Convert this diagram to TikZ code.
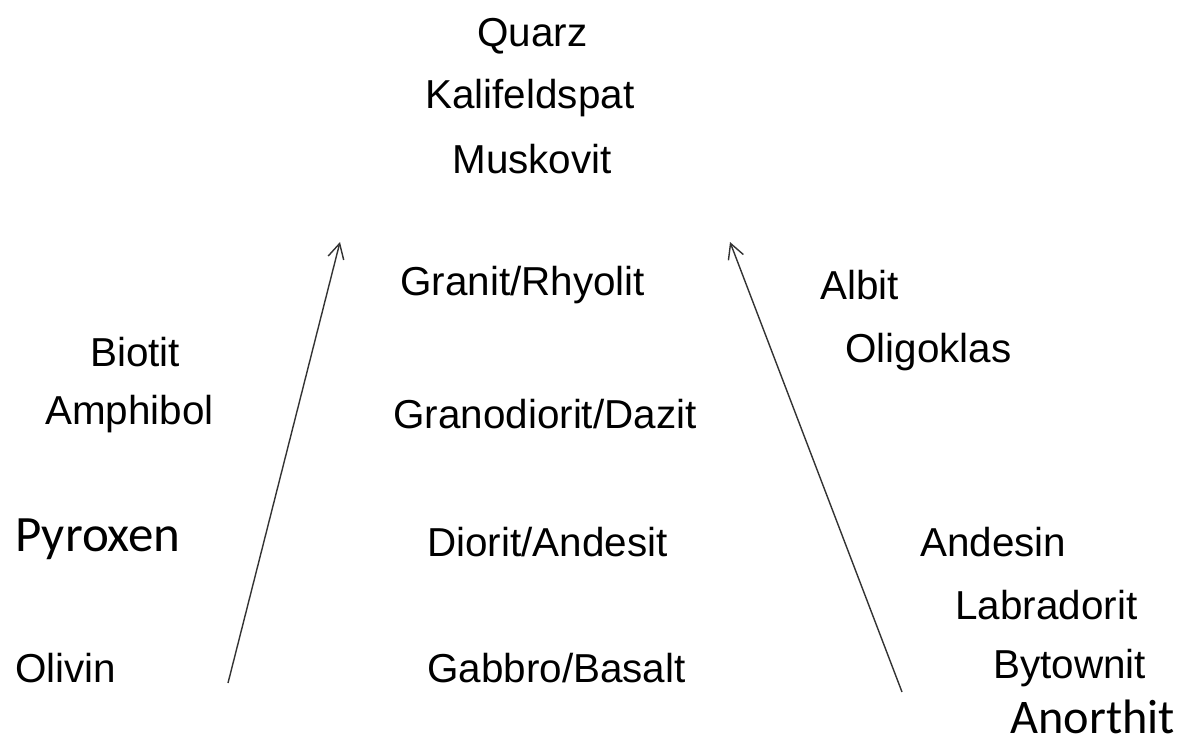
\documentclass[tikz,border=0pt]{standalone}
\usepackage{fontspec}
\setmainfont{Liberation Sans}
\newfontfamily\calfont{Carlito}
\usetikzlibrary{arrows.meta}

\begin{document}
\begin{tikzpicture}[x=0.02cm,y=-0.02cm]
\tikzstyle{every node}=[inner sep=0pt, anchor=west, font=\fontsize{23}{28}\selectfont]
\tikzstyle{cal}=[font=\calfont\fontsize{27.5}{33}\selectfont]
\useasboundingbox (0,0) rectangle (1192,747);
% top
\draw (477,36) node (quarz) {Quarz};
\draw (425,98) node (kali) {Kalifeldspat};
\draw (452,159) node (musk) {Muskovit};
% rocks
\draw (400,285) node (granit) {Granit/Rhyolit};
\draw (393,414) node (grano) {Granodiorit/Dazit};
\draw (427,542) node (diorit) {Diorit/Andesit};
\draw (427,668) node (gabbro) {Gabbro/Basalt};
% left branch
\draw (90,352) node (biotit) {Biotit};
\draw (45,414) node (amph) {Amphibol};
\draw (15,539) node (pyrox) [cal, font=\calfont\fontsize{29}{34}\selectfont] {Pyroxen};
\draw (15,668) node (olivin) {Olivin};
% right branch
\draw (820,285) node (albit) {Albit};
\draw (845,352) node (oligo) {Oligoklas};
\draw (920,542) node (andesin) {Andesin};
\draw (955,605) node (labra) {Labradorit};
\draw (993,668) node (bytow) {Bytownit};
\draw (1010,717) node (anor) [cal] {Anorthit};
% arrows
\coordinate (l0) at (228,683);
\coordinate (l1) at (340,242);
\coordinate (r0) at (902,692);
\coordinate (r1) at (730,242);
\draw[black!80, line width=0.8pt, -{Straight Barb[length=3mm,width=3.2mm]}] (l0) -- (l1);
\draw[black!80, line width=0.8pt, -{Straight Barb[length=3mm,width=3.2mm]}] (r0) -- (r1);
\end{tikzpicture}
\end{document}
